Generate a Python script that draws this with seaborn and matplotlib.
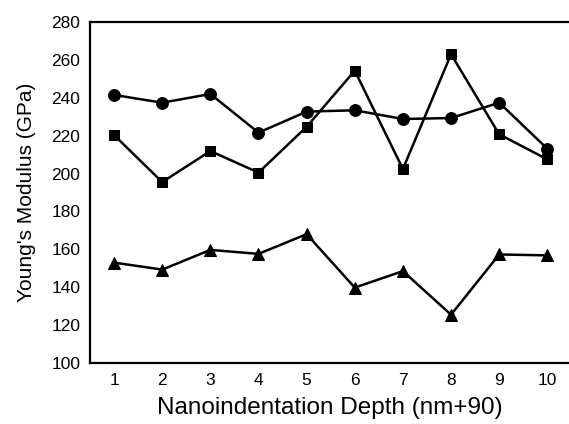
import matplotlib
matplotlib.use("Agg")
import matplotlib.pyplot as plt
import seaborn as sns
import pandas as pd

depth = [1, 2, 3, 4, 5, 6, 7, 8, 9, 10]
circles = [241.5, 237.4, 242.0, 221.6, 232.7, 233.4, 228.8, 229.3, 237.4, 213.1]
squares = [220.3, 195.5, 211.9, 200.5, 224.7, 254.3, 202.4, 263.0, 220.7, 207.5]
triangles = [153.0, 149.3, 159.7, 157.6, 168.0, 139.8, 148.5, 125.5, 157.3, 156.8]
yticks = [100, 120, 140, 160, 180, 200, 220, 240, 260, 280]

sns.set_style("white")
plt.rcParams['font.family'] = ['Liberation Sans', 'DejaVu Sans']
plt.rcParams['text.color'] = 'black'
plt.rcParams['axes.labelcolor'] = 'black'

fig = plt.figure(figsize=(5.69, 4.24), dpi=100)
ax = fig.add_axes([90/569, 1-363/424, 1-90/569, (363-22)/424])

series = [(circles, "o", 8.5), (squares, "s", 7.5), (triangles, "^", 8.5)]
for vals, mk, ms in series:
    df = pd.DataFrame({"depth": depth, "E": vals})
    sns.lineplot(data=df, x="depth", y="E", ax=ax, color="black", lw=1.8,
                 marker=mk, markersize=ms, markeredgecolor="black", markerfacecolor="black")

ax.set_xlim(0.5, 10.45)
ax.set_ylim(100, 280)
ax.set_xticks(depth)
ax.set_yticks(yticks)
ax.tick_params(direction="in", length=5, width=1.3, labelsize=12.5, colors="black", pad=7)
ax.tick_params(axis="y", pad=7)
for side in ["left", "top", "bottom"]:
    ax.spines[side].set_linewidth(1.6)
    ax.spines[side].set_color("black")
ax.spines["right"].set_visible(False)
ax.set_xlabel("Nanoindentation Depth (nm+90)", fontsize=17.5, labelpad=7)
ax.set_ylabel("Young's Modulus (GPa)", fontsize=15, labelpad=11)

fig.savefig("out.png", dpi=100)
